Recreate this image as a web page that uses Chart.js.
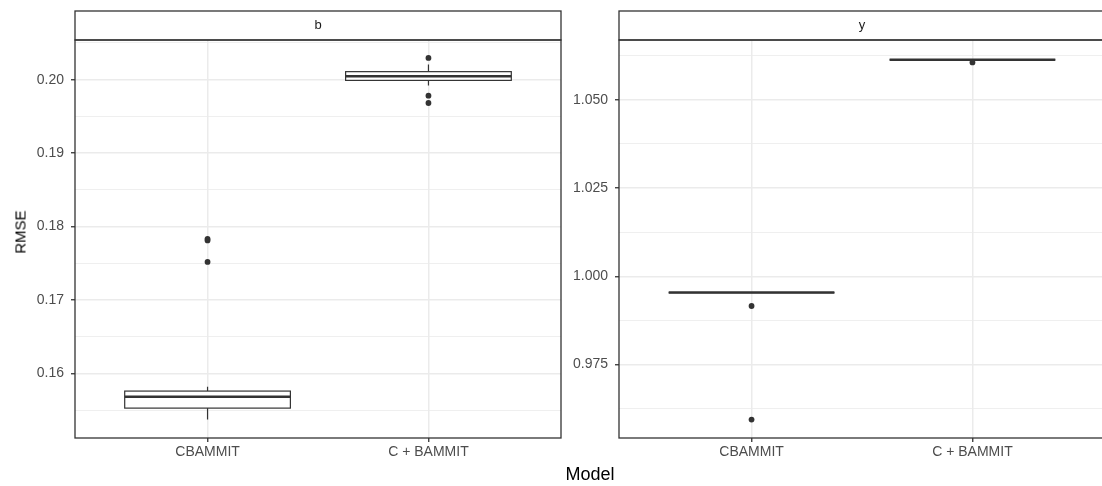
<!DOCTYPE html>
<html>
<head>
<meta charset="utf-8">
<script src="https://cdn.jsdelivr.net/npm/chart.js@4.4.0/dist/chart.umd.min.js"></script>
<style>
  html, body { margin: 0; padding: 0; background: #fff; overflow: hidden; }
  #wrap { position: relative; width: 1102px; height: 486px; overflow: hidden; font-family: "Liberation Sans", Arial, sans-serif; }
  #c1 { position: absolute; left: 0; top: 0; }
  #c2 { position: absolute; left: 563px; top: 0; }
  #xtitle { position: absolute; left: 490px; width: 200px; top: 464px; text-align: center; font-size: 18px; color: #000; line-height: 20px; }
  #ytitle { position: absolute; left: 20px; top: 232px; transform: translate(-50%, -50%) rotate(-90deg); font-size: 15px; color: #000; white-space: nowrap; }
</style>
</head>
<body>
<div id="wrap">
  <canvas id="c1" width="590" height="486"></canvas>
  <canvas id="c2" width="547" height="486"></canvas>
  <div id="ytitle">RMSE</div>
  <div id="xtitle">Model</div>
</div>
<script>
const categories = ['CBAMMIT', 'C + BAMMIT'];
const panelLabels = ['b', 'y'];

// panel "b" - box stats per model
const bLower  = [0.15373, 0.19922];
const bQ1     = [0.15527, 0.19990];
const bMedian = [0.15681, 0.20045];
const bQ3     = [0.15759, 0.20109];
const bUpper  = [0.15818, 0.20205];
const bOutCBAMMIT = [0.17518, 0.17811, 0.17832];
const bOutCPlus   = [0.20296, 0.19782, 0.19682];
const bTicks = [0.16, 0.17, 0.18, 0.19, 0.20];
const bRange = [0.1512, 0.2054];

// panel "y"
const yLower  = [0.99537, 1.06135];
const yQ1     = [0.99537, 1.06135];
const yMedian = [0.99537, 1.06135];
const yQ3     = [0.99537, 1.06135];
const yUpper  = [0.99537, 1.06135];
const yOutCBAMMIT = [0.99157, 0.95939];
const yOutCPlus   = [1.06058];
const yTicks = [0.975, 1.000, 1.025, 1.050];
const yRange = [0.95417, 1.06694];

const DARK = '#333333';
const GRID = '#ebebeb';
const FONT = '"Liberation Sans", Arial, sans-serif';

// boxes drawn through the chart scales
const boxPlugin = {
  id: 'boxes',
  beforeDatasetsDraw(chart, args, opts) {
    const {ctx, scales: {x, y}} = chart;
    const s = opts.stats;
    ctx.save();
    ctx.strokeStyle = DARK;
    for (let i = 0; i < s.median.length; i++) {
      const cx = x.getPixelForValue(i + 1);
      const x0 = x.getPixelForValue(i + 1 - 0.375);
      const x1 = x.getPixelForValue(i + 1 + 0.375);
      const yLo = y.getPixelForValue(s.lower[i]);
      const yQ1p = y.getPixelForValue(s.q1[i]);
      const yMed = y.getPixelForValue(s.median[i]);
      const yQ3p = y.getPixelForValue(s.q3[i]);
      const yHi = y.getPixelForValue(s.upper[i]);
      ctx.lineWidth = 1.2;
      ctx.beginPath();
      ctx.moveTo(cx, yHi); ctx.lineTo(cx, yQ3p);
      ctx.moveTo(cx, yQ1p); ctx.lineTo(cx, yLo);
      ctx.stroke();
      ctx.fillStyle = '#fff';
      ctx.fillRect(x0, yQ3p, x1 - x0, yQ1p - yQ3p);
      ctx.strokeRect(x0, yQ3p, x1 - x0, yQ1p - yQ3p);
      ctx.lineWidth = 2.5;
      ctx.beginPath();
      ctx.moveTo(x0, yMed); ctx.lineTo(x1, yMed);
      ctx.stroke();
    }
    ctx.restore();
  }
};

// panel border + facet strip
const framePlugin = {
  id: 'frame',
  afterDraw(chart, args, opts) {
    const {ctx, chartArea: a} = chart;
    ctx.save();
    ctx.strokeStyle = DARK;
    ctx.lineWidth = 1.3;
    ctx.fillStyle = '#fff';
    ctx.fillRect(a.left, 11, a.right - a.left, a.top - 11);
    ctx.strokeRect(a.left, 11, a.right - a.left, a.top - 11);
    ctx.strokeRect(a.left, a.top, a.right - a.left, a.bottom - a.top);
    ctx.fillStyle = '#1a1a1a';
    ctx.font = '13px ' + FONT;
    ctx.textAlign = 'center';
    ctx.textBaseline = 'middle';
    ctx.fillText(opts.label, (a.left + a.right) / 2, (11 + a.top) / 2);
    ctx.restore();
  }
};

function outlierPoints(outs) {
  const pts = [];
  outs.forEach((arr, i) => arr.forEach(v => pts.push({x: i + 1, y: v})));
  return pts;
}

function makePanel(canvasId, opt) {
  const majors = opt.ticks;
  const step = majors[1] - majors[0];
  return new Chart(document.getElementById(canvasId), {
    type: 'scatter',
    data: {
      datasets: [{
        data: outlierPoints(opt.outliers),
        backgroundColor: DARK,
        borderColor: DARK,
        pointRadius: 2.9,
        pointBorderWidth: 0
      }]
    },
    options: {
      responsive: false,
      animation: false,
      devicePixelRatio: 1,
      layout: { padding: { top: 40, right: opt.padRight, left: 0, bottom: 0 } },
      plugins: {
        legend: { display: false },
        tooltip: { enabled: false },
        boxes: { stats: opt.stats },
        frame: { label: opt.label }
      },
      scales: {
        x: {
          type: 'linear',
          min: 0.4,
          max: 2.6,
          afterBuildTicks: (s) => { s.ticks = categories.map((c, i) => ({value: i + 1})); },
          afterFit: (s) => { s.height = 48; },
          ticks: {
            callback: (v) => categories[v - 1] || '',
            color: '#4d4d4d',
            font: { family: FONT, size: 14 },
            padding: 2,
            maxRotation: 0
          },
          grid: { color: GRID, lineWidth: 1.5, tickColor: DARK, tickLength: 4, tickWidth: 1.3 },
          border: { display: false }
        },
        y: {
          type: 'linear',
          min: opt.range[0],
          max: opt.range[1],
          afterBuildTicks: (s) => {
            const t = [];
            majors.forEach(v => t.push({value: v, minor: false}));
            const mins = [majors[0] - step / 2].concat(majors.map(v => v + step / 2));
            mins.forEach(v => { if (v > opt.range[0] && v < opt.range[1]) t.push({value: v, minor: true}); });
            t.sort((a, b) => a.value - b.value);
            s.ticks = t;
          },
          afterFit: (s) => { s.width = opt.axisWidth; },
          ticks: {
            callback: function(v, i, t) { return t[i].minor ? '' : v.toFixed(opt.decimals); },
            color: '#4d4d4d',
            font: { family: FONT, size: 14 },
            padding: 7
          },
          grid: {
            color: GRID,
            lineWidth: (c) => (c.tick && c.tick.minor) ? 0.8 : 1.5,
            tickColor: (c) => (c.tick && c.tick.minor) ? 'rgba(0,0,0,0)' : DARK,
            tickLength: 4,
            tickWidth: 1.3
          },
          border: { display: false }
        }
      }
    },
    plugins: [boxPlugin, framePlugin]
  });
}

makePanel('c1', {
  label: panelLabels[0],
  stats: { lower: bLower, q1: bQ1, median: bMedian, q3: bQ3, upper: bUpper },
  outliers: [bOutCBAMMIT, bOutCPlus],
  ticks: bTicks,
  range: bRange,
  decimals: 2,
  axisWidth: 75,
  padRight: 29
});

makePanel('c2', {
  label: panelLabels[1],
  stats: { lower: yLower, q1: yQ1, median: yMedian, q3: yQ3, upper: yUpper },
  outliers: [yOutCBAMMIT, yOutCPlus],
  ticks: yTicks,
  range: yRange,
  decimals: 3,
  axisWidth: 56,
  padRight: 5
});
</script>
</body>
</html>
